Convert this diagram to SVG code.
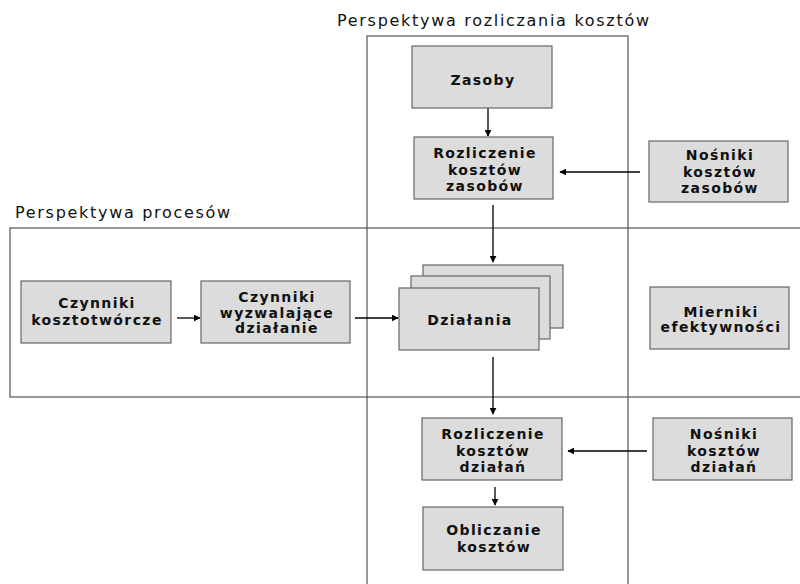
<svg xmlns="http://www.w3.org/2000/svg" width="800" height="584" viewBox="0 0 800 584">
<style>
.frame{fill:none;stroke:#555;stroke-width:1.2}
.box{fill:#dcdcdc;stroke:#666;stroke-width:1.2}
.t{font-family:"DejaVu Sans",Verdana,sans-serif;font-weight:bold;font-size:14px;letter-spacing:1.4px;fill:#111;text-anchor:middle}
.title{font-family:"DejaVu Sans",Verdana,sans-serif;font-size:16px;letter-spacing:1.7px;fill:#111}
.c{stroke:#000;stroke-width:1.3;fill:none;marker-end:url(#ah)}
</style>
<defs>
<marker id="ah" viewBox="0 0 10 10" refX="9" refY="5" markerWidth="7" markerHeight="7" markerUnits="userSpaceOnUse" orient="auto">
<path d="M0,0 L10,5 L0,10 z" fill="#000"/>
</marker>
</defs>
<rect width="800" height="584" fill="#fff"/>
<g id="frames">
<rect class="frame" x="367" y="36" width="261" height="560"/>
<rect class="frame" x="10" y="228" width="800" height="169"/>
<text class="title" x="337" y="26">Perspektywa rozliczania kosztów</text>
<text class="title" x="15" y="218">Perspektywa procesów</text>
</g>
<g id="connectors">
<line class="c" x1="488" y1="108" x2="488" y2="136"/>
<line class="c" x1="640" y1="172" x2="560" y2="172"/>
<line class="c" x1="493" y1="205" x2="493" y2="262"/>
<line class="c" x1="177" y1="318" x2="200" y2="318"/>
<line class="c" x1="355" y1="318" x2="398" y2="318"/>
<line class="c" x1="493" y1="357" x2="493" y2="414"/>
<line class="c" x1="647" y1="451" x2="568" y2="451"/>
<line class="c" x1="495" y1="487" x2="495" y2="505"/>
</g>
<g id="zasoby">
<rect class="box" x="412" y="46" width="140" height="62"/>
<text class="t" x="483" y="85">Zasoby</text>
</g>
<g id="rozliczenie-zasobow">
<rect class="box" x="414" y="137" width="139" height="62"/>
<text class="t" x="485" y="158">Rozliczenie</text>
<text class="t" x="485" y="175">kosztów</text>
<text class="t" x="485" y="191">zasobów</text>
</g>
<g id="nosniki-zasobow">
<rect class="box" x="649" y="141" width="139" height="61"/>
<text class="t" x="720" y="160">Nośniki</text>
<text class="t" x="720" y="177">kosztów</text>
<text class="t" x="720" y="193">zasobów</text>
</g>
<g id="czynniki-kosztotworcze">
<rect class="box" x="21" y="281" width="150" height="62"/>
<text class="t" x="97" y="308">Czynniki</text>
<text class="t" x="97" y="325">kosztotwórcze</text>
</g>
<g id="czynniki-wyzwalajace">
<rect class="box" x="201" y="281" width="149" height="62"/>
<text class="t" x="277" y="302">Czynniki</text>
<text class="t" x="277" y="318">wyzwalające</text>
<text class="t" x="277" y="333">działanie</text>
</g>
<g id="dzialania">
<rect class="box" x="423" y="265" width="140" height="63"/>
<rect class="box" x="411" y="276" width="139" height="63"/>
<rect class="box" x="399" y="288" width="140" height="62"/>
<text class="t" x="470" y="325">Działania</text>
</g>
<g id="mierniki">
<rect class="box" x="650" y="287" width="139" height="62"/>
<text class="t" x="721" y="317">Mierniki</text>
<text class="t" x="721" y="332">efektywności</text>
</g>
<g id="rozliczenie-dzialan">
<rect class="box" x="422" y="418" width="140" height="62"/>
<text class="t" x="493" y="439">Rozliczenie</text>
<text class="t" x="493" y="456">kosztów</text>
<text class="t" x="493" y="472">działań</text>
</g>
<g id="nosniki-dzialan">
<rect class="box" x="653" y="418" width="139" height="62"/>
<text class="t" x="724" y="439">Nośniki</text>
<text class="t" x="724" y="456">kosztów</text>
<text class="t" x="724" y="472">działań</text>
</g>
<g id="obliczanie">
<rect class="box" x="423" y="507" width="140" height="63"/>
<text class="t" x="494" y="535">Obliczanie</text>
<text class="t" x="494" y="552">kosztów</text>
</g>
</svg>
